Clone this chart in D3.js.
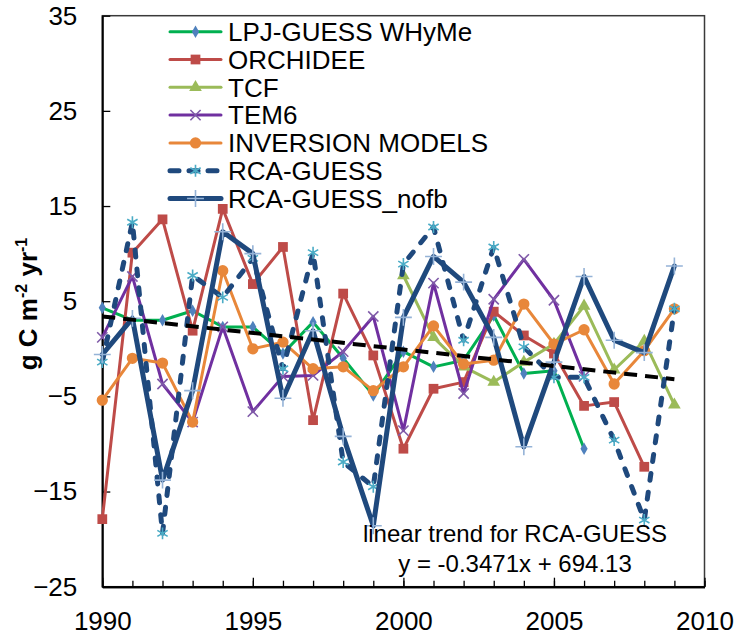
<!DOCTYPE html>
<html>
<head>
<meta charset="utf-8">
<script src="https://cdn.jsdelivr.net/npm/d3@7"></script>
<style>
  body { margin: 0; background: #fff; }
  svg { font-family: "Liberation Sans", Arial, sans-serif; }
</style>
</head>
<body>
<div id="chart"></div>
<script>
// years on the x axis
var years = d3.range(1990, 2010);

// series values (g C m-2 yr-1), null = no data
var lpjGuess = [4.3, 3.0, 3.0, 4.0, 2.3, 2.3, -0.5, 2.8, -1.0, -4.9, -0.3, -1.9, -1.2, 3.5, -2.6, -2.3, -10.5, null, null, null];
var orchidee = [-17.9, 10.1, 13.6, 1.9, 14.7, 6.8, 10.7, -7.5, 5.8, -0.7, -10.5, -4.2, -3.5, 3.9, 1.4, -0.5, -6.0, -5.6, -12.4, null];
var tcf = [null, null, null, null, null, null, null, null, null, null, 7.7, 1.2, -1.9, -3.5, -1.4, 0.5, 4.5, -2.2, 0.8, -5.9];
var tem6 = [1.2, 7.6, -3.7, -7.7, 2.3, -6.6, -2.9, -2.8, -0.3, 3.4, -8.6, 6.9, -4.7, 5.2, 9.4, 5.1, -2.9, null, null, null];
var inversion = [-5.4, -1.0, -1.5, -7.7, 8.2, 0.0, 0.7, -2.1, -1.9, -4.4, -1.9, 2.4, -1.6, -1.2, 4.7, 0.5, 2.0, -3.7, -0.2, 4.2];
var rcaGuess = [-1.4, 13.3, -19.4, 7.7, 5.4, 9.5, -2.1, 10.1, -11.9, -14.5, 8.9, 12.8, 0.9, 10.7, 0.2, -3.0, -3.0, -9.6, -18.0, 4.2];
var rcaNofb = [-0.6, 3.2, -13.8, -4.4, 12.3, 10.0, -5.2, 1.9, -9.2, -18.6, 3.3, 9.7, 7.0, 1.2, -10.3, -1.4, 7.6, 0.9, -0.4, 8.7];

var seriesNames = ["LPJ-GUESS WHyMe", "ORCHIDEE", "TCF", "TEM6", "INVERSION MODELS", "RCA-GUESS", "RCA-GUESS_nofb"];

// linear trend for RCA-GUESS
var trendSlope = -0.3471;
var trendIntercept = 694.13;

var yTicks = [-25, -15, -5, 5, 15, 25, 35];
var xMajorTicks = [1990, 1995, 2000, 2005, 2010];

var width = 738, height = 638;
var plot = { left: 102.3, right: 704.5, top: 15.7, bottom: 586.7 };

var svg = d3.select("#chart").append("svg")
  .attr("width", width)
  .attr("height", height);

var x = d3.scaleLinear().domain([1990, 2010]).range([plot.left, plot.right]);
var y = d3.scaleLinear().domain([-25, 35]).range([plot.bottom, plot.top]);

// plot area border
svg.append("rect")
  .attr("x", plot.left)
  .attr("y", plot.top)
  .attr("width", plot.right - plot.left)
  .attr("height", plot.bottom - plot.top)
  .attr("fill", "none")
  .attr("stroke", "#3a3a3a")
  .attr("stroke-width", 1.5);

// y axis
var yAxis = svg.append("g")
  .attr("transform", "translate(" + plot.left + ",0)")
  .call(d3.axisLeft(y).tickValues(yTicks).tickSize(-8).tickSizeOuter(0).tickPadding(25));

// x axis: minor ticks then major ticks
svg.append("g")
  .attr("transform", "translate(0," + plot.bottom + ")")
  .call(d3.axisBottom(x).tickValues(d3.range(1990, 2011)).tickSize(-6).tickSizeOuter(0).tickFormat(""));
var xAxis = svg.append("g")
  .attr("transform", "translate(0," + plot.bottom + ")")
  .call(d3.axisBottom(x).tickValues(xMajorTicks).tickSize(-9).tickSizeOuter(0).tickPadding(25).tickFormat(d3.format("d")));

svg.selectAll(".domain").attr("stroke", "#000").attr("stroke-width", 2);
svg.selectAll(".tick line").attr("stroke", "#000").attr("stroke-width", 1.3);
yAxis.selectAll("text").attr("font-size", 26).attr("fill", "#000").attr("font-family", "Liberation Sans, Arial, sans-serif");
xAxis.selectAll("text").attr("font-size", 26).attr("fill", "#000").attr("font-family", "Liberation Sans, Arial, sans-serif");

// y axis title
var yTitle = svg.append("text")
  .attr("transform", "translate(37,304) rotate(-90)")
  .attr("text-anchor", "middle")
  .attr("font-size", 26)
  .attr("font-weight", "bold");
yTitle.append("tspan").text("g C m");
yTitle.append("tspan").attr("font-size", 16).attr("dy", -10).text("-2");
yTitle.append("tspan").attr("dy", 10).text(" yr");
yTitle.append("tspan").attr("font-size", 16).attr("dy", -10).text("-1");

// series styling
var styles = [
  { data: lpjGuess, line: "#00b050", width: 3, dash: null, symbol: d3.symbolDiamond, size: 45, fill: "#4f81bd", stroke: null },
  { data: orchidee, line: "#be4b48", width: 3, dash: null, symbol: d3.symbolSquare, size: 95, fill: "#be4b48", stroke: null },
  { data: tcf, line: "#9bbb59", width: 3, dash: null, symbol: d3.symbolTriangle, size: 70, fill: "#9bbb59", stroke: null },
  { data: tem6, line: "#7030a0", width: 3, dash: null, symbol: d3.symbolTimes, size: 70, fill: "none", stroke: "#7f5aa8" },
  { data: inversion, line: "#e8873a", width: 3, dash: null, symbol: d3.symbolCircle, size: 100, fill: "#e8873a", stroke: null },
  { data: rcaGuess, line: "#1f497d", width: 5, dash: "7,12", symbol: d3.symbolAsterisk, size: 100, fill: "none", stroke: "#4bacc6" },
  { data: rcaNofb, line: "#1f497d", width: 5, dash: null, symbol: d3.symbolPlus, size: 95, fill: "none", stroke: "#95b3d7" }
];

var lineGen = d3.line()
  .defined(function(d) { return d.v !== null; })
  .x(function(d) { return x(d.yr); })
  .y(function(d) { return y(d.v); });

function drawMarkers(g, pts, s) {
  g.selectAll("path.mk")
    .data(pts)
    .enter().append("path")
    .attr("class", "mk")
    .attr("transform", function(d) { return "translate(" + d.x + "," + d.y + ")"; })
    .attr("d", d3.symbol().type(s.symbol).size(s.size))
    .attr("fill", s.fill)
    .attr("stroke", s.stroke ? s.stroke : "none")
    .attr("stroke-width", s.stroke ? 1.6 : 0);
}

styles.forEach(function(s) {
  var pts = years.map(function(yr, i) { return { yr: yr, v: s.data[i] }; });
  var g = svg.append("g");
  g.append("path")
    .attr("d", lineGen(pts))
    .attr("fill", "none")
    .attr("stroke", s.line)
    .attr("stroke-width", s.width)
    .attr("stroke-linejoin", "round")
    .attr("stroke-linecap", "round")
    .attr("stroke-dasharray", s.dash);
  var valid = pts.filter(function(d) { return d.v !== null; })
    .map(function(d) { return { x: x(d.yr), y: y(d.v) }; });
  drawMarkers(g, valid, s);
});

// trend line
svg.append("line")
  .attr("x1", x(1990))
  .attr("y1", y(trendSlope * 1990 + trendIntercept))
  .attr("x2", x(2009))
  .attr("y2", y(trendSlope * 2009 + trendIntercept))
  .attr("stroke", "#000")
  .attr("stroke-width", 4)
  .attr("stroke-dasharray", "13,8");

// trend annotation
svg.append("text")
  .attr("x", 515).attr("y", 542)
  .attr("text-anchor", "middle")
  .attr("font-size", 24)
  .text("linear trend for RCA-GUESS");
svg.append("text")
  .attr("x", 515).attr("y", 572)
  .attr("text-anchor", "middle")
  .attr("font-size", 24)
  .text("y = " + trendSlope + "x + " + trendIntercept);

// legend
var legend = svg.append("g");
seriesNames.forEach(function(name, i) {
  var s = styles[i];
  var ly = 31.7 + i * 27.8;
  var row = legend.append("g");
  row.append("line")
    .attr("x1", 170).attr("x2", 221)
    .attr("y1", ly).attr("y2", ly)
    .attr("stroke", s.line)
    .attr("stroke-width", s.width)
    .attr("stroke-linecap", "round")
    .attr("stroke-dasharray", s.dash ? "9,10" : null);
  drawMarkers(row, [{ x: 195.5, y: ly }], s);
  row.append("text")
    .attr("x", 228).attr("y", ly)
    .attr("dy", "0.36em")
    .attr("font-size", 26)
    .text(name);
});
</script>
</body>
</html>
